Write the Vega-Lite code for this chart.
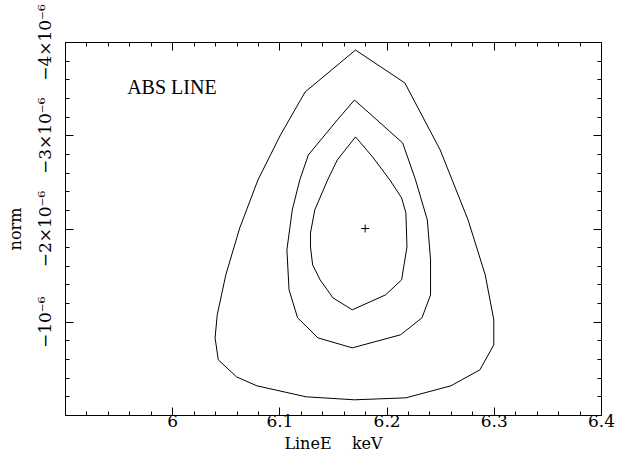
{
  "$schema": "https://vega.github.io/schema/vega-lite/v6.json",
  "width": 536,
  "height": 373,
  "autosize": {"type": "none"},
  "padding": {"left": 65, "top": 42, "right": 22, "bottom": 46},
  "background": "white",
  "config": {
    "view": {"stroke": "#000", "strokeWidth": 1},
    "font": "DejaVu Serif",
    "axis": {
      "domain": false, "grid": false, "tickColor": "#000", "tickWidth": 1,
      "labelColor": "#000", "titleColor": "#000",
      "labelFont": "DejaVu Serif", "titleFont": "DejaVu Serif",
      "labelFontSize": 17, "titleFontSize": 16, "titleFontWeight": "normal",
      "labelOverlap": false, "labelFlush": false, "labelBound": false
    }
  },
  "datasets": {
    "contours": [
      {"c": "outer", "i": 1, "e": 6.171, "n": -3.914e-6},
      {"c": "outer", "i": 2, "e": 6.217, "n": -3.561e-6},
      {"c": "outer", "i": 3, "e": 6.250, "n": -2.842e-6},
      {"c": "outer", "i": 4, "e": 6.276, "n": -2.092e-6},
      {"c": "outer", "i": 5, "e": 6.292, "n": -1.503e-6},
      {"c": "outer", "i": 6, "e": 6.300, "n": -1.020e-6},
      {"c": "outer", "i": 7, "e": 6.300, "n": -0.752e-6},
      {"c": "outer", "i": 8, "e": 6.287, "n": -0.484e-6},
      {"c": "outer", "i": 9, "e": 6.270, "n": -0.377e-6},
      {"c": "outer", "i": 10, "e": 6.260, "n": -0.313e-6},
      {"c": "outer", "i": 11, "e": 6.218, "n": -0.184e-6},
      {"c": "outer", "i": 12, "e": 6.170, "n": -0.163e-6},
      {"c": "outer", "i": 13, "e": 6.125, "n": -0.195e-6},
      {"c": "outer", "i": 14, "e": 6.079, "n": -0.313e-6},
      {"c": "outer", "i": 15, "e": 6.060, "n": -0.409e-6},
      {"c": "outer", "i": 16, "e": 6.043, "n": -0.592e-6},
      {"c": "outer", "i": 17, "e": 6.040, "n": -0.827e-6},
      {"c": "outer", "i": 18, "e": 6.042, "n": -1.074e-6},
      {"c": "outer", "i": 19, "e": 6.050, "n": -1.503e-6},
      {"c": "outer", "i": 20, "e": 6.063, "n": -2.006e-6},
      {"c": "outer", "i": 21, "e": 6.080, "n": -2.521e-6},
      {"c": "outer", "i": 22, "e": 6.101, "n": -3.003e-6},
      {"c": "outer", "i": 23, "e": 6.124, "n": -3.464e-6},
      {"c": "outer", "i": 24, "e": 6.171, "n": -3.914e-6},
      {"c": "middle", "i": 1, "e": 6.170, "n": -3.378e-6},
      {"c": "middle", "i": 2, "e": 6.191, "n": -3.164e-6},
      {"c": "middle", "i": 3, "e": 6.215, "n": -2.917e-6},
      {"c": "middle", "i": 4, "e": 6.227, "n": -2.521e-6},
      {"c": "middle", "i": 5, "e": 6.238, "n": -2.092e-6},
      {"c": "middle", "i": 6, "e": 6.241, "n": -1.663e-6},
      {"c": "middle", "i": 7, "e": 6.241, "n": -1.288e-6},
      {"c": "middle", "i": 8, "e": 6.233, "n": -1.042e-6},
      {"c": "middle", "i": 9, "e": 6.213, "n": -0.860e-6},
      {"c": "middle", "i": 10, "e": 6.168, "n": -0.720e-6},
      {"c": "middle", "i": 11, "e": 6.136, "n": -0.827e-6},
      {"c": "middle", "i": 12, "e": 6.117, "n": -1.042e-6},
      {"c": "middle", "i": 13, "e": 6.109, "n": -1.342e-6},
      {"c": "middle", "i": 14, "e": 6.107, "n": -1.771e-6},
      {"c": "middle", "i": 15, "e": 6.112, "n": -2.199e-6},
      {"c": "middle", "i": 16, "e": 6.119, "n": -2.521e-6},
      {"c": "middle", "i": 17, "e": 6.127, "n": -2.789e-6},
      {"c": "middle", "i": 18, "e": 6.154, "n": -3.164e-6},
      {"c": "middle", "i": 19, "e": 6.170, "n": -3.378e-6},
      {"c": "inner", "i": 1, "e": 6.171, "n": -2.982e-6},
      {"c": "inner", "i": 2, "e": 6.187, "n": -2.767e-6},
      {"c": "inner", "i": 3, "e": 6.203, "n": -2.521e-6},
      {"c": "inner", "i": 4, "e": 6.214, "n": -2.328e-6},
      {"c": "inner", "i": 5, "e": 6.218, "n": -2.167e-6},
      {"c": "inner", "i": 6, "e": 6.219, "n": -1.803e-6},
      {"c": "inner", "i": 7, "e": 6.214, "n": -1.449e-6},
      {"c": "inner", "i": 8, "e": 6.199, "n": -1.288e-6},
      {"c": "inner", "i": 9, "e": 6.168, "n": -1.128e-6},
      {"c": "inner", "i": 10, "e": 6.150, "n": -1.256e-6},
      {"c": "inner", "i": 11, "e": 6.138, "n": -1.449e-6},
      {"c": "inner", "i": 12, "e": 6.131, "n": -1.610e-6},
      {"c": "inner", "i": 13, "e": 6.129, "n": -1.803e-6},
      {"c": "inner", "i": 14, "e": 6.129, "n": -1.953e-6},
      {"c": "inner", "i": 15, "e": 6.133, "n": -2.199e-6},
      {"c": "inner", "i": 16, "e": 6.145, "n": -2.521e-6},
      {"c": "inner", "i": 17, "e": 6.154, "n": -2.735e-6},
      {"c": "inner", "i": 18, "e": 6.171, "n": -2.982e-6}
    ],
    "best": [{"e": 6.18, "n": -2.0e-6}],
    "note": [{"e": 5.958, "n": -3.44e-6, "t": "ABS LINE"}]
  },
  "resolve": {"axis": {"x": "independent", "y": "independent"}},
  "layer": [
    {
      "data": {"name": "contours"},
      "mark": {"type": "line", "stroke": "#000", "strokeWidth": 1},
      "encoding": {
        "x": {
          "field": "e", "type": "quantitative",
          "scale": {"domain": [5.9, 6.4], "nice": false, "zero": false},
          "axis": {
            "orient": "bottom",
            "values": [5.9, 5.92, 5.94, 5.96, 5.98, 6.0, 6.02, 6.04, 6.06, 6.08, 6.1, 6.12, 6.14, 6.16, 6.18, 6.2, 6.22, 6.24, 6.26, 6.28, 6.3, 6.32, 6.34, 6.36, 6.38, 6.4],
            "tickSize": {"condition": {"test": "abs(datum.value*10 - round(datum.value*10)) < 0.001", "value": -8}, "value": -4},
            "labelExpr": "abs(datum.value*10 - round(datum.value*10)) < 0.001 && datum.value > 5.95 ? '' + round(datum.value*10)/10 : ''",
            "labelPadding": 6,
            "title": "LineE\u00a0\u00a0\u00a0\u00a0keV",
            "titlePadding": 2
          }
        },
        "y": {
          "field": "n", "type": "quantitative",
          "scale": {"domain": [-4e-6, 0], "nice": false, "zero": false, "reverse": true},
          "axis": {
            "orient": "left",
            "values": [-4e-6, -3.8e-6, -3.6e-6, -3.4e-6, -3.2e-6, -3e-6, -2.8e-6, -2.6e-6, -2.4e-6, -2.2e-6, -2e-6, -1.8e-6, -1.6e-6, -1.4e-6, -1.2e-6, -1e-6, -0.8e-6, -0.6e-6, -0.4e-6, -0.2e-6, 0],
            "tickSize": {"condition": {"test": "abs(datum.value*1e6 - round(datum.value*1e6)) < 0.01", "value": -8}, "value": -4},
            "labelExpr": "abs(datum.value*1e6 - round(datum.value*1e6)) > 0.01 ? '' : round(datum.value*1e6) == 0 ? '' : round(datum.value*1e6) == -1 ? '\u221210\u207b\u2076' : '\u2212' + abs(round(datum.value*1e6)) + '\u00d710\u207b\u2076'",
            "labelAngle": -90,
            "labelPadding": 19,
            "title": "norm",
            "titlePadding": 9
          }
        },
        "detail": {"field": "c"},
        "order": {"field": "i", "type": "quantitative"}
      }
    },
    {
      "data": {"name": "best"},
      "mark": {"type": "point", "shape": "M-1,0L1,0M0,-1L0,1", "size": 64, "stroke": "#000", "strokeWidth": 1, "filled": false, "opacity": 1},
      "encoding": {
        "x": {
          "field": "e", "type": "quantitative",
          "axis": {
            "orient": "top",
            "values": [5.9, 5.92, 5.94, 5.96, 5.98, 6.0, 6.02, 6.04, 6.06, 6.08, 6.1, 6.12, 6.14, 6.16, 6.18, 6.2, 6.22, 6.24, 6.26, 6.28, 6.3, 6.32, 6.34, 6.36, 6.38, 6.4],
            "tickSize": {"condition": {"test": "abs(datum.value*10 - round(datum.value*10)) < 0.001", "value": -8}, "value": -4},
            "labels": false,
            "title": null
          }
        },
        "y": {
          "field": "n", "type": "quantitative",
          "axis": {
            "orient": "right",
            "values": [-4e-6, -3.8e-6, -3.6e-6, -3.4e-6, -3.2e-6, -3e-6, -2.8e-6, -2.6e-6, -2.4e-6, -2.2e-6, -2e-6, -1.8e-6, -1.6e-6, -1.4e-6, -1.2e-6, -1e-6, -0.8e-6, -0.6e-6, -0.4e-6, -0.2e-6, 0],
            "tickSize": {"condition": {"test": "abs(datum.value*1e6 - round(datum.value*1e6)) < 0.01", "value": -8}, "value": -4},
            "labels": false,
            "title": null
          }
        }
      }
    },
    {
      "data": {"name": "note"},
      "mark": {"type": "text", "align": "left", "baseline": "alphabetic", "fontSize": 20, "font": "Liberation Serif", "color": "#000"},
      "encoding": {
        "x": {"field": "e", "type": "quantitative", "axis": null},
        "y": {"field": "n", "type": "quantitative", "axis": null},
        "text": {"field": "t"}
      }
    }
  ]
}
